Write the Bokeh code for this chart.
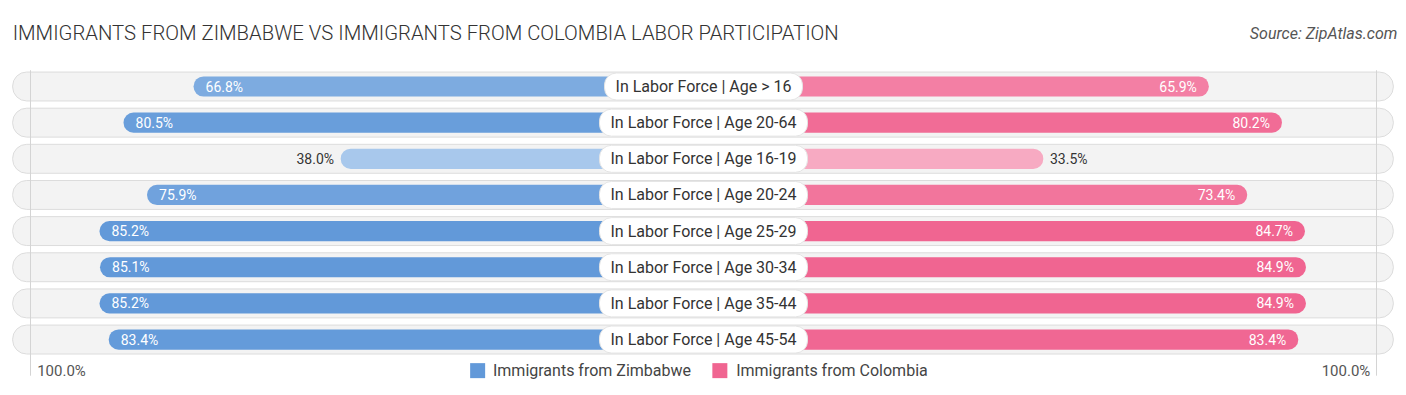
from bokeh.plotting import figure
from bokeh.models import Range1d, ColumnDataSource
from bokeh.core.properties import value
from bokeh.embed import file_html
from bokeh.resources import INLINE

categories = [
    "In Labor Force | Age > 16",
    "In Labor Force | Age 20-64",
    "In Labor Force | Age 16-19",
    "In Labor Force | Age 20-24",
    "In Labor Force | Age 25-29",
    "In Labor Force | Age 30-34",
    "In Labor Force | Age 35-44",
    "In Labor Force | Age 45-54",
]
zimbabwe = [66.8, 80.5, 38.0, 75.9, 85.2, 85.1, 85.2, 83.4]
colombia = [65.9, 80.2, 33.5, 73.4, 84.7, 84.9, 84.9, 83.4]
series_names = ["Immigrants from Zimbabwe", "Immigrants from Colombia"]
title_text = "IMMIGRANTS FROM ZIMBABWE VS IMMIGRANTS FROM COLOMBIA LABOR PARTICIPATION"
source_text = "Source: ZipAtlas.com"
scale_label = "100.0%"

W, H = 1406, 395
PX = 5.11               # pixels per percentage unit
OFFSET = 33.0           # bars start behind the centre label
HALF = W / 2 / PX
ROW_PX = 36.15
ROW0 = 86.0

FONT = value("Roboto")
TITLE_FONT = value("'Roboto Light', Roboto")


def mix(c1, c2, t):
    t = max(0.0, min(1.0, t))
    a = [int(c1[i:i + 2], 16) for i in (1, 3, 5)]
    b = [int(c2[i:i + 2], 16) for i in (1, 3, 5)]
    return "#" + "".join("%02x" % round(a[k] + (b[k] - a[k]) * t) for k in range(3))


def shade(v, light, dark):
    return mix(light, dark, (v - 35.0) / (85.0 - 35.0))


p = figure(width=W, height=H, output_backend="svg", toolbar_location=None,
           x_range=Range1d(-HALF, HALF),
           y_range=Range1d((H - ROW0) / ROW_PX, -ROW0 / ROW_PX),
           min_border=0, outline_line_color=None)
p.axis.visible = False
p.grid.visible = False
p.background_fill_color = "white"
p.border_fill_color = "white"

rows = list(range(len(categories)))

# background pills
p.hbar(y=rows, left=-135.2, right=135.0, height=0.80, fill_color="#f3f3f3",
       line_color="#dcdcdc", line_width=1, border_radius=14)

# 100% reference lines
p.segment(x0=[-131.7, 131.7], x1=[-131.7, 131.7], y0=[-0.45, -0.45], y1=[8.0, 8.0],
          line_color="#d4d4d4", line_width=1)

blue_cols = [shade(v, "#adcbed", "#6299d9") for v in zimbabwe]
pink_cols = [shade(v, "#f7aac2", "#f06591") for v in colombia]

src_b = ColumnDataSource(dict(y=rows, left=[-(OFFSET + v) for v in zimbabwe],
                              right=[0] * len(rows), c=blue_cols))
src_p = ColumnDataSource(dict(y=rows, left=[0] * len(rows),
                              right=[OFFSET + v for v in colombia], c=pink_cols))
p.hbar(y="y", left="left", right="right", height=0.56, fill_color="c",
       line_color=None, border_radius=10, source=src_b)
p.hbar(y="y", left="left", right="right", height=0.56, fill_color="c",
       line_color=None, border_radius=10, source=src_p)

# value labels
INSIDE = 50
for i, v in enumerate(zimbabwe):
    edge = -(OFFSET + v)
    if v > INSIDE:
        p.text(x=[edge + 2.35], y=[i], text=["%.1f%%" % v], text_color="white",
               text_font=FONT, text_font_size="14px", text_align="left",
               text_baseline="middle")
    else:
        p.text(x=[edge - 1.3], y=[i], text=["%.1f%%" % v], text_color="#333333",
               text_font=FONT, text_font_size="14px", text_align="right",
               text_baseline="middle")
for i, v in enumerate(colombia):
    edge = OFFSET + v
    if v > INSIDE:
        p.text(x=[edge - 2.35], y=[i], text=["%.1f%%" % v], text_color="white",
               text_font=FONT, text_font_size="14px", text_align="right",
               text_baseline="middle")
    else:
        p.text(x=[edge + 1.3], y=[i], text=["%.1f%%" % v], text_color="#333333",
               text_font=FONT, text_font_size="14px", text_align="left",
               text_baseline="middle")

# centre category labels
p.text(x=[0] * len(rows), y=rows, text=categories, text_color="#333333",
       text_font=FONT, text_font_size="16px", text_align="center",
       text_baseline="middle", background_fill_color="white",
       border_line_color="#e4e4e4", border_radius=12,
       padding=(11, 11, 4, 4))

# title and source
p.text(x=[-135.2], y=[-1.47], text=[title_text], text_color="#333333",
       text_font=TITLE_FONT, text_font_size="20.3px", text_align="left",
       text_baseline="middle")
p.text(x=[135.8], y=[-1.47], text=[source_text], text_color="#555555",
       text_font=FONT, text_font_size="16px", text_font_style="italic",
       text_align="right", text_baseline="middle")

# bottom scale labels
p.text(x=[-130.4, 130.5], y=[7.86, 7.86], text=[scale_label, scale_label],
       text_color="#555555", text_font=FONT, text_font_size="15px",
       text_align=["left", "right"], text_baseline="middle")

# legend
p.rect(x=[-44.2, 3.2], y=[7.86, 7.86], width=15, height=15, width_units="screen",
       height_units="screen", fill_color=["#6299d9", "#f06591"], line_color=None)
p.text(x=[-41.2, 6.4], y=[7.86, 7.86], text=series_names, text_color="#444444",
       text_font=FONT, text_font_size="16px", text_align="left",
       text_baseline="middle")

open("out.html", "w").write(file_html(p, INLINE))
